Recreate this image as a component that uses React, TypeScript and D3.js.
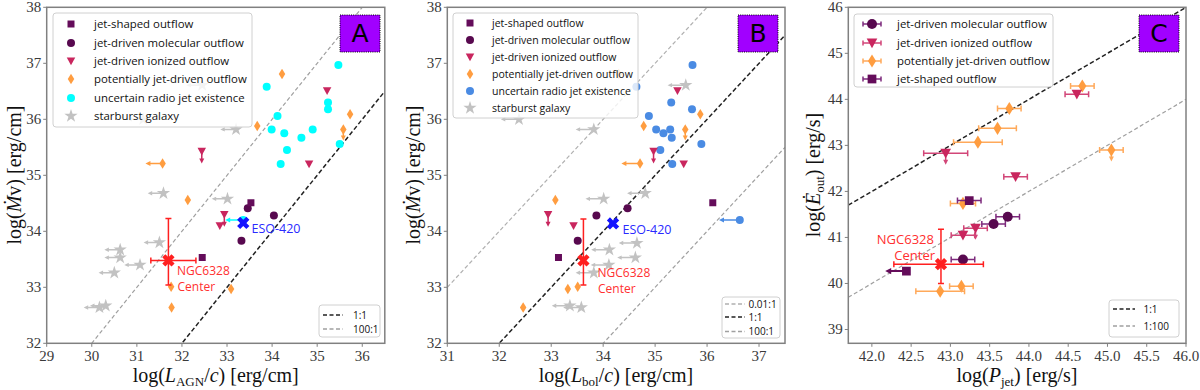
import React from "react";
import * as d3 from "d3";

type Pt = [number, number];

// ---------------- Panel A: log(L_AGN/c) vs log(Mdot v) ----------------
const A_jetShaped: Pt[] = [[33.53, 34.51], [32.45, 33.53]];
const A_molecular: Pt[] = [[33.46, 34.41], [34.04, 34.28], [33.32, 33.83]];
const A_ionized: Pt[] = [[34.82, 35.2], [35.22, 36.51], [32.84, 34.1]];
const A_ionizedUpperY: Pt[] = [[32.44, 35.43], [32.94, 34.3]];
const A_potential: Pt[] = [[34.22, 36.81], [33.67, 35.88], [35.73, 36.09], [32.13, 34.56], [31.76, 33.01], [33.09, 32.97], [31.77, 32.64]];
const A_potentialUpperY: Pt[] = [[35.58, 35.82]];
const A_potentialUpperX: Pt[] = [[31.57, 35.21]];
const A_uncertain: Pt[] = [[35.47, 36.97], [33.88, 36.58], [35.24, 36.3], [35.24, 36.18], [34.12, 36.06], [33.99, 35.82], [34.27, 35.75], [34.9, 35.82], [34.65, 35.67], [34.33, 35.45], [34.19, 35.2], [35.5, 35.56]];
const A_uncertainUpperX: Pt[] = [[33.36, 34.2]];
const A_starburstUpperX: Pt[] = [[32.45, 36.61], [31.14, 36.0], [33.2, 35.82], [31.59, 34.68], [33.01, 34.58], [31.5, 33.8], [30.63, 33.67], [30.63, 33.53], [31.07, 33.4], [30.5, 33.26], [30.31, 32.67], [30.17, 32.64]];
const A_ngc: Pt = [31.7, 33.48];
const A_ngcXerr: Pt = [0.39, 0.61];
const A_ngcYerr: Pt = [0.44, 0.75];
const A_eso: Pt = [33.36, 34.15];
const A_lineOffsets = [0, 2];
const A_lineLabels = ["1:1", "100:1"];

// ---------------- Panel B: log(L_bol/c) vs log(Mdot v) ----------------
const B_jetShaped: Pt[] = [[36.11, 34.51], [33.14, 33.53]];
const B_molecular: Pt[] = [[34.47, 34.41], [33.87, 34.28], [33.51, 33.83]];
const B_ionized: Pt[] = [[35.43, 36.51], [35.55, 35.2], [33.43, 34.1]];
const B_ionizedUpperY: Pt[] = [[34.97, 35.43], [32.94, 34.3]];
const B_potential: Pt[] = [[34.3, 36.81], [35.87, 36.09], [34.78, 35.88], [33.08, 34.56], [33.32, 32.97], [33.51, 33.01], [32.46, 32.64]];
const B_potentialUpperY: Pt[] = [[35.58, 35.82]];
const B_potentialUpperX: Pt[] = [[34.71, 35.21]];
const B_uncertain: Pt[] = [[35.72, 36.97], [34.64, 36.58], [35.31, 36.3], [35.71, 36.18], [34.88, 36.06], [35.02, 35.82], [35.16, 35.75], [35.29, 35.82], [35.32, 35.67], [35.1, 35.45], [35.33, 35.2], [35.89, 35.56]];
const B_uncertainUpperX: Pt[] = [[36.63, 34.2]];
const B_starburstUpperX: Pt[] = [[35.59, 36.61], [32.38, 36.0], [33.82, 35.82], [34.81, 34.68], [34.01, 34.58], [34.65, 33.79], [34.12, 33.67], [34.62, 33.53], [34.11, 33.4], [33.82, 33.26], [33.36, 32.67], [33.58, 32.64]];
const B_ngc: Pt = [33.62, 33.48];
const B_ngcYerr: Pt = [0.44, 0.74];
const B_eso: Pt = [34.19, 34.14];
const B_lineOffsets = [2, 0, -2];
const B_lineLabels = ["0.01:1", "1:1", "100:1"];

// ---------------- Panel C: log(P_jet) vs log(E_out) ----------------
const C_molecular: Pt[] = [[43.73, 41.45], [43.55, 41.29], [43.16, 40.52]];
const C_molecularXerr = [0.15, 0.15, 0.15];
const C_ionized: Pt[] = [[44.61, 44.11], [43.83, 42.32], [43.16, 41.05]];
const C_ionizedXerr = [0.15, 0.15, 0.15];
const C_ionizedUpperY: Pt[] = [[42.94, 42.83], [43.32, 41.2]];
const C_ionizedUpperYXerr = [0.28, 0.15];
const C_potential: Pt[] = [[44.68, 44.29], [43.75, 43.8], [43.6, 43.37], [43.35, 43.07], [43.16, 41.74], [43.14, 39.94], [42.87, 39.83]];
const C_potentialXerr = [0.15, 0.15, 0.24, 0.31, 0.16, 0.15, 0.31];
const C_potentialUpperY: Pt[] = [[45.05, 42.9]];
const C_potentialUpperYXerr = [0.15];
const C_jetShaped: Pt[] = [[43.24, 41.8]];
const C_jetShapedXerr = [0.15];
const C_jetShapedUpperX: Pt[] = [[42.44, 40.27]];
const C_ngc: Pt = [42.88, 40.42];
const C_ngcXerr: Pt = [0.6, 0.54];
const C_ngcYerr: Pt = [0.42, 0.76];
const C_lineOffsets = [0, -2];
const C_lineLabels = ["1:1", "1:100"];

const legendAB = ["jet-shaped outflow", "jet-driven molecular outflow", "jet-driven ionized outflow", "potentially jet-driven outflow", "uncertain radio jet existence", "starburst galaxy"];
const legendC = ["jet-driven molecular outflow", "jet-driven ionized outflow", "potentially jet-driven outflow", "jet-shaped outflow"];

const A_xTicks = [29, 30, 31, 32, 33, 34, 35, 36];
const B_xTicks = [31, 32, 33, 34, 35, 36, 37];
const AB_yTicks = [32, 33, 34, 35, 36, 37, 38];
const C_xTicks = [42, 42.5, 43, 43.5, 44, 44.5, 45, 45.5, 46];
const C_yTicks = [39, 40, 41, 42, 43, 44, 45, 46];

// ---------------- styles ----------------
const SERIF = "'Liberation Serif', 'DejaVu Serif', serif";
const SANS = "'Open Sans', 'DejaVu Sans', sans-serif";
const COL = {
  jetShaped: "#640c5a",
  molecular: "#58094f",
  ionized: "#c9265e",
  potential: "#ff9d40",
  uncertainA: "#00ffff",
  uncertainB: "#4a8be3",
  starburst: "#c2c2c2",
  ngc: "#ff1f1f",
  eso: "#1414ff",
  box: "#a100ff",
  spine: "#808080",
};
const ERR = {
  jetShaped: "#7d2a7c",
  molecular: "#7d2a7c",
  ionized: "#d24678",
  potential: "#ffa95a",
};

// marker paths (centered on 0,0)
const sqP = (s: number) => `M${-s / 2},${-s / 2}h${s}v${s}h${-s}Z`;
const triP = (w: number) => `M${-w / 2},${-w * 0.42}L${w / 2},${-w * 0.42}L0,${w * 0.5}Z`;
const diaP = (w: number, h: number) => `M0,${-h / 2}L${w / 2},0L0,${h / 2}L${-w / 2},0Z`;
const starP = (s: number) => d3.symbol(d3.symbolStar, s)() as string;
const xP = (s: number) => d3.symbol(d3.symbolCross, s)() as string;

function Mk({ kind, x, y, color, big = false, opacity = 1 }: any) {
  const t = `translate(${x},${y})`;
  const k = big ? 1.25 : 1;
  if (kind === "circle") return <circle cx={x} cy={y} r={4 * k} fill={color} opacity={opacity} />;
  if (kind === "square") return <path d={sqP(7 * k)} transform={t} fill={color} opacity={opacity} />;
  if (kind === "tri") return <path d={triP(8.5 * k)} transform={t} fill={color} opacity={opacity} />;
  if (kind === "diamond") return <path d={diaP(6.5 * k, 10.5 * k)} transform={t} fill={color} opacity={opacity} />;
  if (kind === "star") return <path d={starP(55)} transform={t} fill={color} opacity={opacity} />;
  if (kind === "x") return <path d={xP(big ? 95 : 70)} transform={`${t} rotate(45)`} fill={color} />;
  return null;
}

function ArrowLeft({ x0, x1, y, color, w = 1.5, head = 4 }: any) {
  return (
    <g>
      <line x1={x0} x2={x1 + head} y1={y} y2={y} stroke={color} strokeWidth={w} />
      <path d={`M${x1},${y}l${head + 1},${-head / 1.6}v${(head / 1.6) * 2}Z`} fill={color} />
    </g>
  );
}
function ArrowDown({ x, y0, y1, color, w = 1.5, head = 4 }: any) {
  return (
    <g>
      <line x1={x} x2={x} y1={y0} y2={y1 - head} stroke={color} strokeWidth={w} />
      <path d={`M${x},${y1}l${-head / 1.6},${-(head + 1)}h${(head / 1.6) * 2}Z`} fill={color} />
    </g>
  );
}
function ErrX({ x0, x1, y, color, cap = 3 }: any) {
  return (
    <g stroke={color} strokeWidth={1.5}>
      <line x1={x0} x2={x1} y1={y} y2={y} />
      <line x1={x0} x2={x0} y1={y - cap} y2={y + cap} />
      <line x1={x1} x2={x1} y1={y - cap} y2={y + cap} />
    </g>
  );
}
function ErrY({ y0, y1, x, color, cap = 3 }: any) {
  return (
    <g stroke={color} strokeWidth={1.5}>
      <line x1={x} x2={x} y1={y0} y2={y1} />
      <line x1={x - cap} x2={x + cap} y1={y0} y2={y0} />
      <line x1={x - cap} x2={x + cap} y1={y1} y2={y1} />
    </g>
  );
}

function Axes({ x, y, xTicks, yTicks, xFmt }: any) {
  const [x0, x1] = x.range();
  const [yb, yt] = y.range();
  return (
    <g>
      <rect x={x0} y={yt} width={x1 - x0} height={yb - yt} fill="none" stroke={COL.spine} strokeWidth={1.5} />
      {xTicks.map((t: number) => (
        <g key={"x" + t}>
          <line x1={x(t)} x2={x(t)} y1={yb} y2={yb + 3.5} stroke={COL.spine} />
          <text x={x(t)} y={yb + 18} textAnchor="middle" fontFamily={SERIF} fontSize={15} fill="#3a3a3a">{xFmt(t)}</text>
        </g>
      ))}
      {yTicks.map((t: number) => (
        <g key={"y" + t}>
          <line x1={x0} x2={x0 - 3.5} y1={y(t)} y2={y(t)} stroke={COL.spine} />
          <text x={x0 - 5.5} y={y(t) + 5} textAnchor="end" fontFamily={SERIF} fontSize={15} fill="#3a3a3a">{t}</text>
        </g>
      ))}
    </g>
  );
}

function DiagLines({ x, y, offsets, colors, widths, id }: any) {
  const [d0, d1] = x.domain();
  return (
    <g clipPath={`url(#${id})`}>
      {offsets.map((o: number, i: number) => (
        <line key={i} x1={x(d0)} y1={y(d0 + o)} x2={x(d1)} y2={y(d1 + o)} stroke={colors[i]} strokeWidth={widths[i]} strokeDasharray={colors[i] === "#222" ? "4.5,2.5" : "4,2.5"} />
      ))}
    </g>
  );
}

function LabelBox({ x, letter }: any) {
  return (
    <g>
      <rect x={x} y={15} width={40} height={37} fill={COL.box} stroke="#000" strokeWidth={1} strokeDasharray="1,1.2" />
      <text x={x + 20} y={42} textAnchor="middle" fontFamily="'DejaVu Sans', sans-serif" fontSize={25} fill="#000">{letter}</text>
    </g>
  );
}

function TopLegend({ box, rows, mx, tx, fs, kinds, colors, labels }: any) {
  return (
    <g>
      <rect x={box[0]} y={box[1]} width={box[2] - box[0]} height={box[3] - box[1]} rx={3} fill="#fff" fillOpacity={0.8} stroke="#d0d0d0" />
      {labels.map((l: string, i: number) => (
        <g key={l}>
          <Mk kind={kinds[i]} x={mx} y={rows[i]} color={colors[i]} />
          <text x={tx} y={rows[i] + fs * 0.36} fontFamily={SANS} fontSize={fs} fill="#111">{l}</text>
        </g>
      ))}
    </g>
  );
}

function LineLegend({ box, rows, lx0, lx1, tx, colors, labels }: any) {
  return (
    <g>
      <rect x={box[0]} y={box[1]} width={box[2] - box[0]} height={box[3] - box[1]} rx={3} fill="#fff" fillOpacity={0.8} stroke="#d0d0d0" />
      {labels.map((l: string, i: number) => (
        <g key={l}>
          <line x1={lx0} x2={lx1} y1={rows[i]} y2={rows[i]} stroke={colors[i]} strokeWidth={1.5} strokeDasharray="4,2.5" />
          <text x={tx} y={rows[i] + 3.6} fontFamily={SANS} fontSize={10} fill="#111">{l}</text>
        </g>
      ))}
    </g>
  );
}

function YLabelMdot({ cx }: any) {
  return (
    <text transform={`translate(${cx},175) rotate(-90)`} textAnchor="middle" fontFamily={SERIF} fontSize={20} fill="#111">
      log(<tspan fontStyle="italic">Ṁ</tspan>v) [erg/cm]
    </text>
  );
}

function ScatterAB({ x, y, d, uncertainColor, arrowLen }: any) {
  const sb = COL.starburst;
  return (
    <g>
      {d.starburst.map((p: Pt, i: number) => (
        <g key={"s" + i}>
          <ArrowLeft x0={x(p[0])} x1={x(p[0] - 0.35)} y={y(p[1])} color={sb} w={1.5} head={3.5} />
          <Mk kind="star" x={x(p[0])} y={y(p[1])} color={sb} />
        </g>
      ))}
      {d.uncertain.map((p: Pt, i: number) => <Mk key={"u" + i} kind="circle" x={x(p[0])} y={y(p[1])} color={uncertainColor} />)}
      {d.uncertainUpperX.map((p: Pt, i: number) => (
        <g key={"ux" + i}>
          <ArrowLeft x0={x(p[0])} x1={x(p[0] - 0.4)} y={y(p[1])} color={uncertainColor} />
          <Mk kind="circle" x={x(p[0])} y={y(p[1])} color={uncertainColor} />
        </g>
      ))}
      {d.potential.map((p: Pt, i: number) => <Mk key={"p" + i} kind="diamond" x={x(p[0])} y={y(p[1])} color={COL.potential} />)}
      {d.potentialUpperY.map((p: Pt, i: number) => (
        <g key={"py" + i}>
          <ArrowDown x={x(p[0])} y0={y(p[1])} y1={y(p[1] - 0.2)} color={COL.potential} />
          <Mk kind="diamond" x={x(p[0])} y={y(p[1])} color={COL.potential} />
        </g>
      ))}
      {d.potentialUpperX.map((p: Pt, i: number) => (
        <g key={"px" + i}>
          <ArrowLeft x0={x(p[0])} x1={x(p[0] - arrowLen)} y={y(p[1])} color={COL.potential} />
          <Mk kind="diamond" x={x(p[0])} y={y(p[1])} color={COL.potential} />
        </g>
      ))}
      {d.ionized.map((p: Pt, i: number) => <Mk key={"i" + i} kind="tri" x={x(p[0])} y={y(p[1])} color={COL.ionized} />)}
      {d.ionizedUpperY.map((p: Pt, i: number) => (
        <g key={"iy" + i}>
          <ArrowDown x={x(p[0])} y0={y(p[1])} y1={y(p[1] - 0.22)} color={COL.ionized} />
          <Mk kind="tri" x={x(p[0])} y={y(p[1])} color={COL.ionized} />
        </g>
      ))}
      {d.molecular.map((p: Pt, i: number) => <Mk key={"m" + i} kind="circle" x={x(p[0])} y={y(p[1])} color={COL.molecular} />)}
      {d.jetShaped.map((p: Pt, i: number) => <Mk key={"j" + i} kind="square" x={x(p[0])} y={y(p[1])} color={COL.jetShaped} />)}
    </g>
  );
}

export default function App() {
  // scales
  const xA = d3.scaleLinear().domain([29, 36.5]).range([46.7, 384.8]);
  const yA = d3.scaleLinear().domain([32, 38]).range([343.3, 7.3]);
  const xB = d3.scaleLinear().domain([31, 37.5]).range([447.3, 785]);
  const yB = d3.scaleLinear().domain([32, 38]).range([343.3, 7.3]);
  const xC = d3.scaleLinear().domain([41.7, 46]).range([848.3, 1186]);
  const yC = d3.scaleLinear().domain([38.7, 46]).range([343.3, 7.3]);

  const kindsAB = ["square", "circle", "tri", "diamond", "circle", "star"];
  const colorsA = [COL.jetShaped, COL.molecular, COL.ionized, COL.potential, COL.uncertainA, COL.starburst];
  const colorsB = [COL.jetShaped, COL.molecular, COL.ionized, COL.potential, COL.uncertainB, COL.starburst];

  const dA = { jetShaped: A_jetShaped, molecular: A_molecular, ionized: A_ionized, ionizedUpperY: A_ionizedUpperY, potential: A_potential, potentialUpperY: A_potentialUpperY, potentialUpperX: A_potentialUpperX, uncertain: A_uncertain, uncertainUpperX: A_uncertainUpperX, starburst: A_starburstUpperX };
  const dB = { jetShaped: B_jetShaped, molecular: B_molecular, ionized: B_ionized, ionizedUpperY: B_ionizedUpperY, potential: B_potential, potentialUpperY: B_potentialUpperY, potentialUpperX: B_potentialUpperX, uncertain: B_uncertain, uncertainUpperX: B_uncertainUpperX, starburst: B_starburstUpperX };

  const clipRect = (id: string, x: any, y: any) => (
    <clipPath id={id}>
      <rect x={x.range()[0]} y={y.range()[1]} width={x.range()[1] - x.range()[0]} height={y.range()[0] - y.range()[1]} />
    </clipPath>
  );

  const cErr = (pts: Pt[], errs: number[], color: string, kind: string, mcolor: string, upper = false, key = "") =>
    pts.map((p, i) => (
      <g key={key + i}>
        <ErrX x0={xC(p[0] - errs[i])} x1={xC(p[0] + errs[i])} y={yC(p[1])} color={color} />
        {upper && <ArrowDown x={xC(p[0])} y0={yC(p[1])} y1={yC(p[1] - 0.25)} color={color} />}
        <Mk kind={kind} x={xC(p[0])} y={yC(p[1])} color={mcolor} big />
      </g>
    ));

  return (
    <svg width={1200} height={390} style={{ position: "absolute", left: 0, top: 0 }} xmlns="http://www.w3.org/2000/svg">
      <defs>
        {clipRect("clipA", xA, yA)}
        {clipRect("clipB", xB, yB)}
        {clipRect("clipC", xC, yC)}
      </defs>
      <rect width={1200} height={390} fill="#fff" />

      {/* ---------- Panel A ---------- */}
      <DiagLines x={xA} y={yA} offsets={A_lineOffsets} colors={["#222", "#a0a0a0"]} widths={[1.5, 1.2]} id="clipA" />
      <g clipPath="url(#clipA)">
        <ScatterAB x={xA} y={yA} d={dA} uncertainColor={COL.uncertainA} arrowLen={0.38} />
        <ErrX x0={xA(A_ngc[0] - A_ngcXerr[0])} x1={xA(A_ngc[0] + A_ngcXerr[1])} y={yA(A_ngc[1])} color={COL.ngc} />
        <ErrY y0={yA(A_ngc[1] - A_ngcYerr[0])} y1={yA(A_ngc[1] + A_ngcYerr[1])} x={xA(A_ngc[0])} color={COL.ngc} />
        <Mk kind="x" x={xA(A_ngc[0])} y={yA(A_ngc[1])} color={COL.ngc} big />
        <Mk kind="x" x={xA(A_eso[0])} y={yA(A_eso[1])} color={COL.eso} big />
      </g>
      <text x={177} y={275} fontFamily={SANS} fontSize={12} fill="#ff3030">NGC6328</text>
      <text x={177.5} y={290.5} fontFamily={SANS} fontSize={12} fill="#ff3030">Center</text>
      <text x={251.5} y={232.5} fontFamily={SANS} fontSize={12.5} fill="#2a2aff">ESO-420</text>
      <Axes x={xA} y={yA} xTicks={A_xTicks} yTicks={AB_yTicks} xFmt={(t: number) => String(t)} />
      <TopLegend box={[53, 13, 252, 127]} rows={[24, 43, 61, 79, 98, 116]} mx={71} tx={94} fs={11.4} kinds={kindsAB} colors={colorsA} labels={legendAB} />
      <LineLegend box={[319, 305, 380, 337]} rows={[315, 329]} lx0={323} lx1={343} tx={353} colors={["#222", "#a0a0a0"]} labels={A_lineLabels} />
      <LabelBox x={340} letter="A" />
      <YLabelMdot cx={21} />
      <text x={215.7} y={382} textAnchor="middle" fontFamily={SERIF} fontSize={20} fill="#111">
        log(<tspan fontStyle="italic">L</tspan><tspan dy={4} fontSize={13}>AGN</tspan><tspan dy={-4}>/</tspan><tspan fontStyle="italic">c</tspan>) [erg/cm]
      </text>

      {/* ---------- Panel B ---------- */}
      <DiagLines x={xB} y={yB} offsets={B_lineOffsets} colors={["#b0b0b0", "#222", "#a0a0a0"]} widths={[1.2, 1.5, 1.2]} id="clipB" />
      <g clipPath="url(#clipB)">
        <ScatterAB x={xB} y={yB} d={dB} uncertainColor={COL.uncertainB} arrowLen={0.36} />
        <ErrY y0={yB(B_ngc[1] - B_ngcYerr[0])} y1={yB(B_ngc[1] + B_ngcYerr[1])} x={xB(B_ngc[0])} color={COL.ngc} />
        <Mk kind="x" x={xB(B_ngc[0])} y={yB(B_ngc[1])} color={COL.ngc} big />
        <Mk kind="x" x={xB(B_eso[0])} y={yB(B_eso[1])} color={COL.eso} big />
      </g>
      <text x={597.5} y={277} fontFamily={SANS} fontSize={12} fill="#ff3030">NGC6328</text>
      <text x={598} y={292.5} fontFamily={SANS} fontSize={12} fill="#ff3030">Center</text>
      <text x={622.5} y={233.5} fontFamily={SANS} fontSize={12.5} fill="#2a2aff">ESO-420</text>
      <Axes x={xB} y={yB} xTicks={B_xTicks} yTicks={AB_yTicks} xFmt={(t: number) => String(t)} />
      <TopLegend box={[453, 13, 638, 118]} rows={[23, 40, 57, 74, 91, 108]} mx={470} tx={492} fs={10.5} kinds={kindsAB} colors={colorsB} labels={legendAB} />
      <LineLegend box={[722, 297, 780, 338]} rows={[304, 317, 331.5]} lx0={725} lx1={745} tx={748.5} colors={["#b0b0b0", "#222", "#a0a0a0"]} labels={B_lineLabels} />
      <LabelBox x={738} letter="B" />
      <YLabelMdot cx={420} />
      <text x={616} y={382} textAnchor="middle" fontFamily={SERIF} fontSize={20} fill="#111">
        log(<tspan fontStyle="italic">L</tspan><tspan dy={4} fontSize={13}>bol</tspan><tspan dy={-4}>/</tspan><tspan fontStyle="italic">c</tspan>) [erg/cm]
      </text>

      {/* ---------- Panel C ---------- */}
      <DiagLines x={xC} y={yC} offsets={C_lineOffsets} colors={["#222", "#a0a0a0"]} widths={[1.5, 1.2]} id="clipC" />
      <g clipPath="url(#clipC)">
        {cErr(C_potential, C_potentialXerr, ERR.potential, "diamond", COL.potential, false, "cp")}
        {cErr(C_potentialUpperY, C_potentialUpperYXerr, ERR.potential, "diamond", COL.potential, true, "cpu")}
        {cErr(C_ionized, C_ionizedXerr, ERR.ionized, "tri", COL.ionized, false, "ci")}
        {cErr(C_ionizedUpperY, C_ionizedUpperYXerr, ERR.ionized, "tri", COL.ionized, true, "ciu")}
        {cErr(C_molecular, C_molecularXerr, ERR.molecular, "circle", COL.molecular, false, "cm")}
        {cErr(C_jetShaped, C_jetShapedXerr, ERR.jetShaped, "square", COL.jetShaped, false, "cj")}
        {C_jetShapedUpperX.map((p, i) => (
          <g key={"cjx" + i}>
            <ArrowLeft x0={xC(p[0])} x1={xC(p[0] - 0.27)} y={yC(p[1])} color={COL.jetShaped} w={2} head={5} />
            <Mk kind="square" x={xC(p[0])} y={yC(p[1])} color={COL.jetShaped} big />
          </g>
        ))}
        <ErrX x0={xC(C_ngc[0] - C_ngcXerr[0])} x1={xC(C_ngc[0] + C_ngcXerr[1])} y={yC(C_ngc[1])} color={COL.ngc} />
        <ErrY y0={yC(C_ngc[1] - C_ngcYerr[0])} y1={yC(C_ngc[1] + C_ngcYerr[1])} x={xC(C_ngc[0])} color={COL.ngc} />
        <Mk kind="x" x={xC(C_ngc[0])} y={yC(C_ngc[1])} color={COL.ngc} big />
      </g>
      <text x={934} y={243.5} textAnchor="end" fontFamily={SANS} fontSize={13} fill="#ff3030">NGC6328</text>
      <text x={935} y={259.5} textAnchor="end" fontFamily={SANS} fontSize={13} fill="#ff3030">Center</text>
      <Axes x={xC} y={yC} xTicks={C_xTicks} yTicks={C_yTicks} xFmt={(t: number) => t.toFixed(1)} />
      <g>
        <rect x={854} y={14} width={199} height={73} rx={3} fill="#fff" fillOpacity={0.8} stroke="#d0d0d0" />
        {legendC.map((l, i) => {
          const kinds = ["circle", "tri", "diamond", "square"];
          const cols = [COL.molecular, COL.ionized, COL.potential, COL.jetShaped];
          const errs = [ERR.molecular, ERR.ionized, ERR.potential, ERR.jetShaped];
          const ry = [24, 43, 61, 79][i];
          return (
            <g key={l}>
              <ErrX x0={863} x1={881} y={ry} color={errs[i]} cap={2.5} />
              <Mk kind={kinds[i]} x={872} y={ry} color={cols[i]} big />
              <text x={897} y={ry + 4.1} fontFamily={SANS} fontSize={11.4} fill="#111">{l}</text>
            </g>
          );
        })}
      </g>
      <LineLegend box={[1109, 300, 1179, 337]} rows={[309, 326]} lx0={1113} lx1={1135} tx={1143.5} colors={["#222", "#a0a0a0"]} labels={C_lineLabels} />
      <LabelBox x={1139} letter="C" />
      <text transform="translate(820,175) rotate(-90)" textAnchor="middle" fontFamily={SERIF} fontSize={20} fill="#111">
        log(<tspan fontStyle="italic">Ė</tspan><tspan dy={4} fontSize={13}>out</tspan><tspan dy={-4}>) [erg/s]</tspan>
      </text>
      <text x={1017} y={382} textAnchor="middle" fontFamily={SERIF} fontSize={20} fill="#111">
        log(<tspan fontStyle="italic">P</tspan><tspan dy={4} fontSize={13}>jet</tspan><tspan dy={-4}>) [erg/s]</tspan>
      </text>
    </svg>
  );
}
